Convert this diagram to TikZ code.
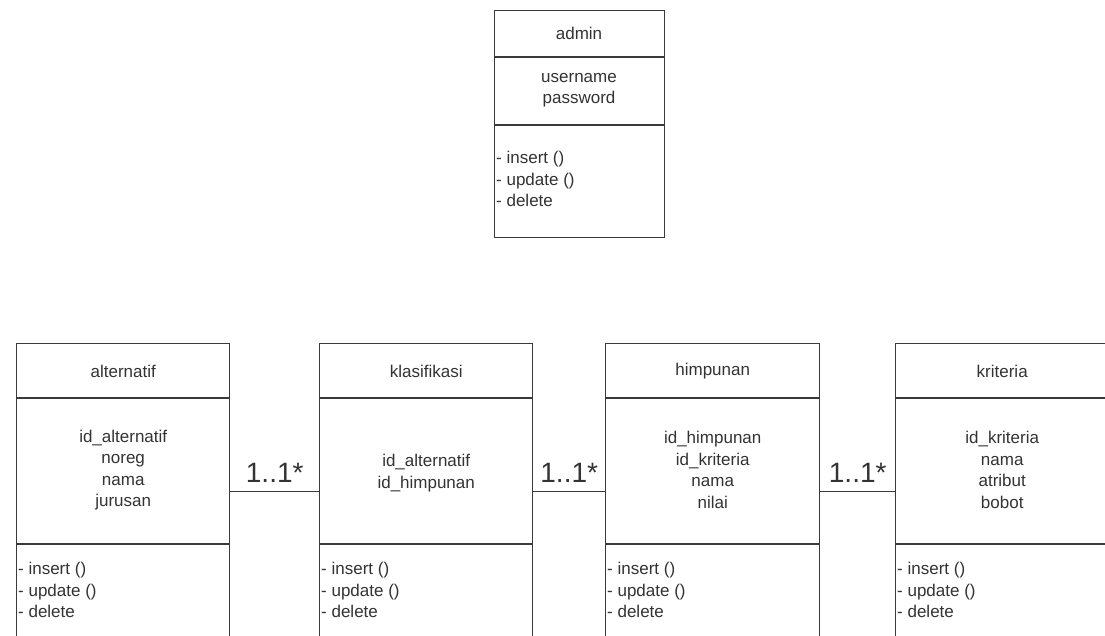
\documentclass[tikz,border=0pt]{standalone}
\usepackage{fontspec}
\setmainfont{Liberation Sans}
\usetikzlibrary{calc}
\definecolor{linegray}{HTML}{3A3A3A}
\definecolor{textgray}{HTML}{333333}
\begin{document}
\begin{tikzpicture}[x=1pt,y=-1pt,
  classbox/.style={draw=linegray, line width=1.4pt, anchor=north west, inner sep=0pt},
  sep/.style={draw=linegray, line width=1.4pt},
  txt/.style={text=textgray, inner sep=0pt, font=\fontsize{17}{21.5}\selectfont, align=center},
  meth/.style={txt, align=left, anchor=west},
  assoc/.style={draw=linegray, line width=1.4pt},
  mult/.style={text=textgray, inner sep=0pt, font=\fontsize{28}{30}\selectfont, anchor=south}]
\useasboundingbox (0,0) rectangle (1105,635);
\fill[white] (0,0) rectangle (1105,635);
\clip (0,0) rectangle (1105,635);

% admin class
\node[classbox, minimum width=170pt, minimum height=227pt] (admin) at (494,10) {};
\draw[sep] (admin.west |- 0,57) -- (admin.east |- 0,57);
\draw[sep] (admin.west |- 0,125) -- (admin.east |- 0,125);
\node[txt] (adminhd) at (579,33) {admin};
\node[txt] (adminat) at (579,90) {username\\password};
\node[meth] (adminop) at (496,179) {- insert ()\\- update ()\\- delete};

% lower classes: header 55, attributes 146, operations below
\foreach \nm/\xl/\w/\title/\attrs/\ay in {
    alt/16/213/alternatif/{id\_alternatif\\noreg\\nama\\jurusan}/470,
    kla/319/213/klasifikasi/{id\_alternatif\\id\_himpunan}/473,
    him/605/214/himpunan/{id\_himpunan\\id\_kriteria\\nama\\nilai}/470,
    kri/895/213/kriteria/{id\_kriteria\\nama\\atribut\\bobot}/470} {
  \node[classbox, minimum width=\w pt, minimum height=296pt] (\nm) at (\xl,343) {};
  \draw[sep] (\nm.west |- 0,398) -- (\nm.east |- 0,398);
  \draw[sep] (\nm.west |- 0,544) -- (\nm.east |- 0,544);
  \node[txt] (\nm hd) at ($(\nm.north)+(0,28)$) {\title};
  \node[txt] (\nm at) at (\nm.center |- 0,\ay) {\attrs};
  \node[meth] (\nm op) at ($(\nm.north west)+(2,247)$) {- insert ()\\- update ()\\- delete};
}

% associations
\draw[assoc] (alt.east) -- (kla.west) node[mult, pos=0.5, yshift=9pt] (m1) {1..1*};
\draw[assoc] (kla.east) -- (him.west) node[mult, pos=0.5, yshift=9pt] (m2) {1..1*};
\draw[assoc] (him.east) -- (kri.west) node[mult, pos=0.5, yshift=9pt] (m3) {1..1*};
\end{tikzpicture}
\end{document}
